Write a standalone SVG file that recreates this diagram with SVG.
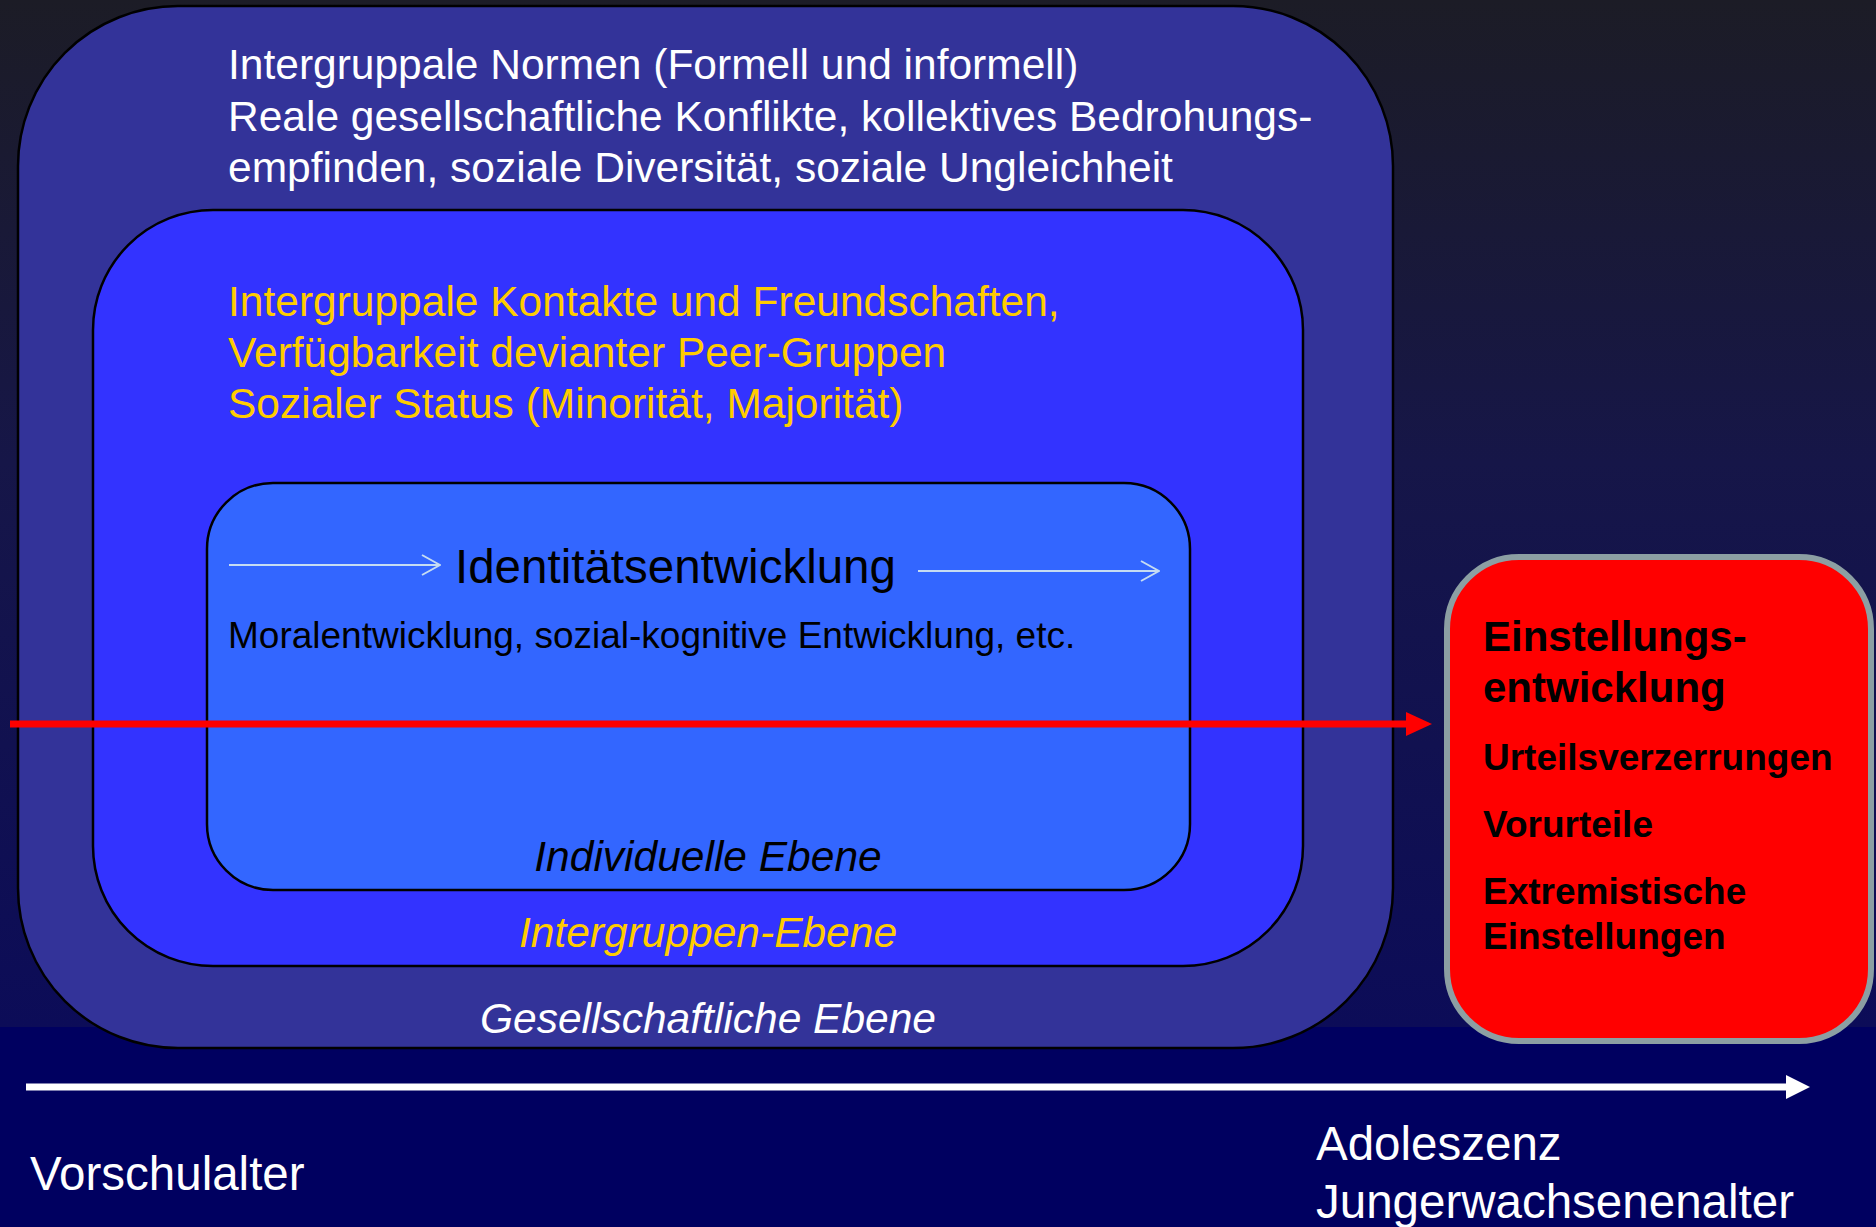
<svg xmlns="http://www.w3.org/2000/svg" width="1876" height="1227" viewBox="0 0 1876 1227">
  <defs>
    <linearGradient id="bg" x1="0" y1="0" x2="0" y2="1">
      <stop offset="0" stop-color="#1c1c26"/>
      <stop offset="0.45" stop-color="#161648"/>
      <stop offset="1" stop-color="#0c0c58"/>
    </linearGradient>
    <marker id="chev" viewBox="0 0 20 22" refX="19" refY="11" markerWidth="20" markerHeight="22" markerUnits="userSpaceOnUse" orient="auto">
      <polyline points="1,1 19,11 1,21" fill="none" stroke="#c6dcf2" stroke-width="2"/>
    </marker>
  </defs>
  <style>
    .box { stroke: #000000; stroke-width: 2.5; }
    .t { font-family: "Liberation Sans", Arial, sans-serif; }
    .w { fill: #ffffff; }
    .y { fill: #ffcc00; }
    .k { fill: #000000; }
    .it { font-style: italic; }
    .b { font-weight: bold; }
    .thin { stroke: #c6dcf2; stroke-width: 2; fill: none; }
  </style>

  <rect x="0" y="0" width="1876" height="1027" fill="url(#bg)"/>
  <rect x="0" y="1027" width="1876" height="200" fill="#000060"/>

  <g id="gesellschaftliche-ebene">
    <rect class="box" x="18" y="6" width="1375" height="1042" rx="160" ry="160" fill="#333399"/>
    <text class="t w" font-size="42.5" x="228" y="79">Intergruppale Normen (Formell und informell)</text>
    <text class="t w" font-size="42.5" x="228" y="131">Reale gesellschaftliche Konflikte, kollektives Bedrohungs-</text>
    <text class="t w" font-size="42.5" x="228" y="182">empfinden, soziale Diversität, soziale Ungleichheit</text>
    <text class="t w it" font-size="42.5" x="708" y="1033" text-anchor="middle">Gesellschaftliche Ebene</text>
  </g>

  <g id="intergruppen-ebene">
    <rect class="box" x="93" y="210" width="1210" height="756" rx="120" ry="120" fill="#3333ff"/>
    <text class="t y" font-size="42.5" x="228" y="316">Intergruppale Kontakte und Freundschaften,</text>
    <text class="t y" font-size="42.5" x="228" y="367">Verfügbarkeit devianter Peer-Gruppen</text>
    <text class="t y" font-size="42.5" x="228" y="418">Sozialer Status (Minorität, Majorität)</text>
    <text class="t y it" font-size="42.5" x="708" y="947" text-anchor="middle">Intergruppen-Ebene</text>
  </g>

  <g id="individuelle-ebene">
    <rect class="box" x="207" y="483" width="983" height="407" rx="66" ry="66" fill="#3366ff"/>
    <text class="t k" font-size="47.5" x="455" y="583">Identitätsentwicklung</text>
    <text class="t k" font-size="37" x="228" y="648">Moralentwicklung, sozial-kognitive Entwicklung, etc.</text>
    <text class="t k it" font-size="42.5" x="708" y="871" text-anchor="middle">Individuelle Ebene</text>
  </g>

  <g id="einstellungsentwicklung">
    <rect x="1447" y="557" width="424" height="484" rx="72" ry="72" fill="#ff0000" stroke="#8c9fa3" stroke-width="6"/>
    <text class="t k b" font-size="42" x="1483" y="651">Einstellungs-</text>
    <text class="t k b" font-size="42" x="1483" y="702">entwicklung</text>
    <text class="t k b" font-size="37" x="1483" y="770">Urteilsverzerrungen</text>
    <text class="t k b" font-size="37" x="1483" y="837">Vorurteile</text>
    <text class="t k b" font-size="37" x="1483" y="904">Extremistische</text>
    <text class="t k b" font-size="37" x="1483" y="949">Einstellungen</text>
  </g>

  <g id="zeitachse-labels">
    <text class="t w" font-size="47.5" x="30" y="1190">Vorschulalter</text>
    <text class="t w" font-size="47.5" x="1316" y="1160">Adoleszenz</text>
    <text class="t w" font-size="47.5" x="1316" y="1218">Jungerwachsenenalter</text>
  </g>

  <g id="connectors">
    <line class="thin" x1="229" y1="565" x2="440" y2="565" marker-end="url(#chev)"/>
    <line class="thin" x1="918" y1="571" x2="1159" y2="571" marker-end="url(#chev)"/>
    <rect x="10" y="720.5" width="1400" height="7" fill="#ff0000"/>
    <polygon points="1406,712 1432,724 1406,736" fill="#ff0000"/>
    <rect x="26" y="1083.5" width="1764" height="7" fill="#ffffff"/>
    <polygon points="1786,1075 1810,1087 1786,1099" fill="#ffffff"/>
  </g>
</svg>
